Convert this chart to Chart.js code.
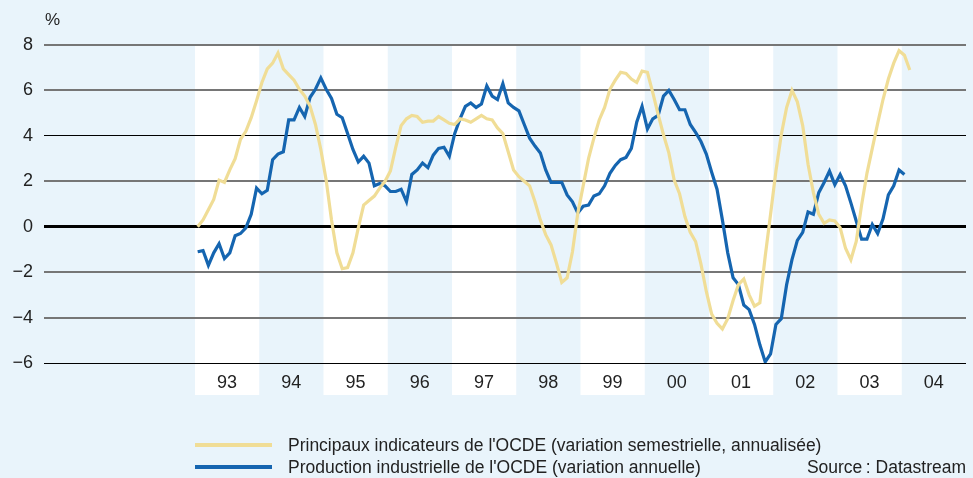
<!DOCTYPE html>
<html lang="fr">

<head>
    <meta charset="UTF-8">
    <title>Indicateurs OCDE</title>
    <script src="https://cdn.jsdelivr.net/npm/chart.js"></script>
    <style>
        body {
            margin: 0;
            padding: 0;
            background: #e9f4fb;
            font-family: "Liberation Sans", Arial, sans-serif;
            color: #222;
        }

        .wrap {
            position: relative;
            width: 973px;
            height: 478px;
        }

        canvas {
            position: absolute;
            left: 0;
            top: 0;
        }

        .unit {
            position: absolute;
            left: 45px;
            top: 10px;
            font-size: 17px;
        }

        .legend-line {
            position: absolute;
            left: 195px;
            width: 77px;
            height: 4px;
        }

        .legend-text {
            position: absolute;
            font-size: 17.5px;
            line-height: 20px;
            white-space: nowrap;
        }
    </style>
</head>

<body>
    <div class="wrap">
        <canvas id="chart" width="973" height="478"></canvas>
        <div class="unit">%</div>

        <!-- légende -->
        <div class="legend-line" style="top:443px;background:#f0dd96"></div>
        <div class="legend-text" style="left:288px;top:435px">Principaux indicateurs de l'OCDE (variation semestrielle, annualisée)</div>
        <div class="legend-line" style="top:465px;background:#1565b0"></div>
        <div class="legend-text" style="left:288px;top:457px">Production industrielle de l'OCDE (variation annuelle)</div>
        <div class="legend-text" style="right:7px;top:457px">Source&#8239;: Datastream</div>
    </div>

    <script>
        // années (une bande par année)
        const yearLabels = ['93', '94', '95', '96', '97', '98', '99', '00', '01', '02', '03', '04'];
        const yTicks = [-6, -4, -2, 0, 2, 4, 6, 8];

        // valeurs mensuelles à partir de janvier 1993
        const leading = [
            0.0, 0.3, 0.75, 1.2, 2.05, 1.95, 2.5, 3.0, 3.85, 4.2, 4.8, 5.55,
            6.35, 6.95, 7.2, 7.65, 6.95, 6.7, 6.45, 6.05, 5.75, 5.3, 4.5, 3.4,
            2.05, 0.3, -1.15, -1.85, -1.8, -1.15, -0.05, 0.95, 1.15, 1.35, 1.7, 2.0,
            2.45, 3.5, 4.45, 4.75, 4.9, 4.85, 4.6, 4.65, 4.65, 4.85, 4.7, 4.55,
            4.5, 4.75, 4.7, 4.6, 4.75, 4.9, 4.75, 4.7, 4.35, 4.1, 3.3, 2.5,
            2.2, 2.0, 1.8, 1.1, 0.3, -0.35, -0.8, -1.6, -2.45, -2.25, -1.1, 0.6,
            1.8, 3.0, 3.9, 4.7, 5.25, 6.05, 6.45, 6.8, 6.75, 6.5, 6.35, 6.85,
            6.8, 5.9, 4.95, 4.05, 3.25, 2.05, 1.45, 0.45, -0.25, -0.65, -1.65, -2.85,
            -3.85, -4.25, -4.5, -4.05, -3.25, -2.55, -2.3, -3.0, -3.5, -3.35, -1.3, 0.55,
            2.45, 4.05, 5.25, 6.0, 5.5, 4.45, 2.75, 1.5, 0.55, 0.15, 0.3, 0.25,
            -0.05, -0.95, -1.45, -0.65, 0.95, 2.35, 3.45, 4.55, 5.6, 6.5, 7.2, 7.75,
            7.55, 6.9
        ];

        const production = [
            -1.1, -1.05, -1.7, -1.15, -0.75, -1.4, -1.15, -0.4, -0.3, -0.05, 0.55, 1.7,
            1.45, 1.6, 2.95, 3.2, 3.3, 4.7, 4.7, 5.25, 4.85, 5.7, 6.05, 6.55,
            6.05, 5.65, 4.95, 4.8, 4.1, 3.4, 2.85, 3.1, 2.8, 1.8, 1.9, 1.8,
            1.55, 1.55, 1.65, 1.1, 2.3, 2.5, 2.8, 2.6, 3.15, 3.45, 3.5, 3.1,
            4.1, 4.75, 5.3, 5.45, 5.25, 5.4, 6.2, 5.75, 5.6, 6.3, 5.45, 5.25,
            5.1, 4.5, 3.9, 3.55, 3.25, 2.5, 1.95, 1.95, 1.95, 1.4, 1.1, 0.6,
            0.9, 0.95, 1.35, 1.45, 1.8, 2.35, 2.7, 2.95, 3.05, 3.45, 4.6, 5.3,
            4.3, 4.75, 4.9, 5.75, 6.0, 5.6, 5.15, 5.15, 4.5, 4.15, 3.75, 3.2,
            2.4, 1.65, 0.3, -1.15, -2.25, -2.55, -3.45, -3.65, -4.3, -5.2, -5.95, -5.6,
            -4.3, -4.05, -2.55, -1.45, -0.6, -0.25, 0.65, 0.55, 1.5, 1.95, 2.45, 1.85,
            2.3, 1.8, 1.05, 0.25, -0.55, -0.55, 0.1, -0.3, 0.35, 1.4, 1.8, 2.5,
            2.3
        ];

        const toPoints = arr => arr.map((v, i) => ({ x: i + 0.5, y: v }));

        // bandes blanches une année sur deux
        const yearBands = {
            id: 'yearBands',
            beforeDraw(chart) {
                const { ctx, chartArea, scales } = chart;
                ctx.save();
                ctx.fillStyle = '#ffffff';
                yearLabels.forEach((label, i) => {
                    if (i % 2 !== 0) return;
                    const x0 = scales.x.getPixelForValue(i * 12);
                    const x1 = scales.x.getPixelForValue(i * 12 + 12);
                    ctx.fillRect(x0, chartArea.top, x1 - x0, chartArea.bottom - chartArea.top + 32);
                });
                ctx.restore();
            }
        };

        new Chart(document.getElementById('chart'), {
            type: 'line',
            data: {
                datasets: [{
                    label: "Principaux indicateurs de l'OCDE",
                    data: toPoints(leading),
                    borderColor: '#f0dd96',
                    borderWidth: 3.2,
                    pointRadius: 0,
                    tension: 0
                }, {
                    label: "Production industrielle de l'OCDE",
                    data: toPoints(production),
                    borderColor: '#1565b0',
                    borderWidth: 3.2,
                    pointRadius: 0,
                    tension: 0
                }]
            },
            options: {
                responsive: false,
                animation: false,
                events: [],
                layout: { padding: { top: 45, right: 7, left: 0, bottom: 0 } },
                plugins: {
                    legend: { display: false },
                    tooltip: { enabled: false }
                },
                scales: {
                    x: {
                        type: 'linear',
                        min: -28.2,
                        max: 144,
                        grid: { display: false },
                        border: { display: false },
                        afterBuildTicks: scale => {
                            scale.ticks = yearLabels.map((l, i) => ({ value: i * 12 + 6 }));
                        },
                        afterFit: scale => { scale.height = 115; },
                        ticks: {
                            autoSkip: false,
                            maxRotation: 0,
                            padding: 1,
                            color: '#222',
                            font: { family: 'Liberation Sans', size: 18 },
                            callback: v => yearLabels[Math.round((v - 6) / 12)]
                        }
                    },
                    y: {
                        min: -6,
                        max: 8,
                        afterBuildTicks: scale => {
                            scale.ticks = yTicks.map(v => ({ value: v }));
                        },
                        afterFit: scale => { scale.width = 44; },
                        border: { display: false },
                        grid: {
                            drawTicks: false,
                            color: c => {
                                const v = c.tick ? c.tick.value : null;
                                if (v === 0 || v === 4 || v === -6) return '#000';
                                return '#767676';
                            },
                            lineWidth: c => {
                                const v = c.tick ? c.tick.value : null;
                                if (v === 0) return 3;
                                if (v === 4 || v === -6) return 1;
                                return 2;
                            }
                        },
                        ticks: {
                            padding: 11,
                            color: '#222',
                            font: { family: 'Liberation Sans', size: 18 },
                            callback: v => String(v).replace('-', '\u2212')
                        }
                    }
                }
            },
            plugins: [yearBands]
        });
    </script>
</body>

</html>
